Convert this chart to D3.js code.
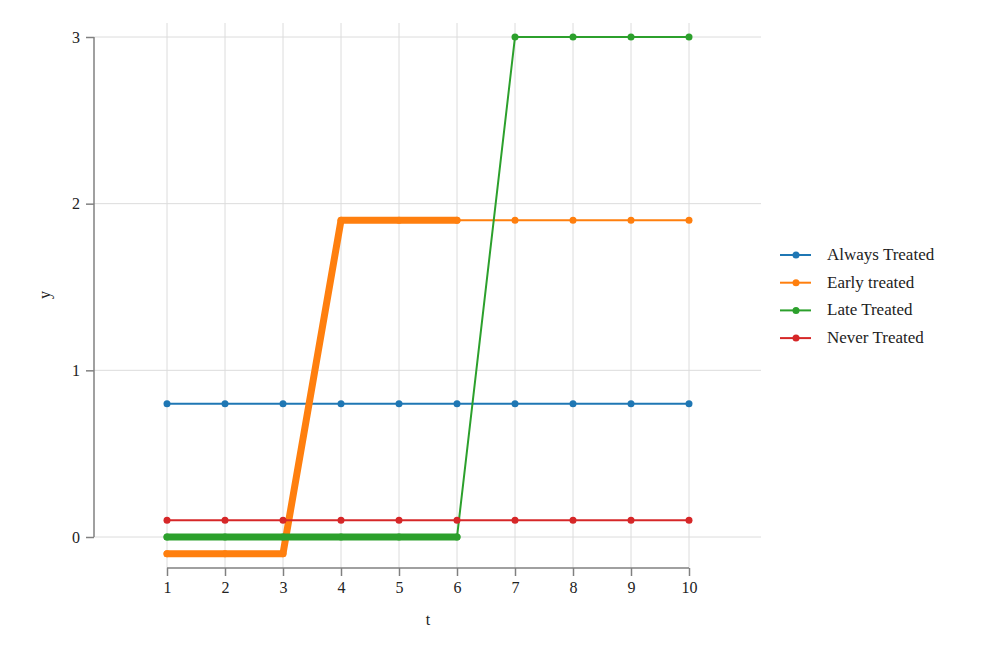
<!DOCTYPE html>
<html><head><meta charset="utf-8">
<script src="https://cdn.jsdelivr.net/npm/d3@7"></script>
<style>
body{margin:0;background:#fff;}
text{font-family:"Liberation Serif","DejaVu Serif",serif;fill:#222;}
</style></head>
<body><svg id="chart" width="1000" height="666"></svg>
<script>
const periods = [1,2,3,4,5,6,7,8,9,10];
const alwaysTreated = [0.8,0.8,0.8,0.8,0.8,0.8,0.8,0.8,0.8,0.8];
const earlyTreated = [-0.1,-0.1,-0.1,1.9,1.9,1.9,1.9,1.9,1.9,1.9];
const lateTreated = [0,0,0,0,0,0,3,3,3,3];
const neverTreated = [0.1,0.1,0.1,0.1,0.1,0.1,0.1,0.1,0.1,0.1];
const seriesNames = ["Always Treated","Early treated","Late Treated","Never Treated"];
const seriesColors = ["#1f77b4","#ff7f0e","#2ca02c","#d62728"];
const yTicks = [0,1,2,3];
const highlightMaxT = 6;

const svg = d3.select("#chart");
const x = d3.scaleLinear().domain([1,10]).range([167,689]);
const y = d3.scaleLinear().domain([0,3]).range([537,37]);

// grid
const g = svg.append("g");
g.selectAll(".vg").data(periods).enter().append("line")
  .attr("x1",d=>x(d)).attr("x2",d=>x(d)).attr("y1",23).attr("y2",568)
  .attr("stroke","#dcdcdc").attr("stroke-width",1);
g.selectAll(".hg").data(yTicks).enter().append("line")
  .attr("x1",94).attr("x2",761).attr("y1",d=>y(d)).attr("y2",d=>y(d))
  .attr("stroke","#dcdcdc").attr("stroke-width",1);

// axes
const xAxis = d3.axisBottom(x).tickValues(periods).tickSize(8).tickPadding(6).tickFormat(d3.format("d"));
const xa = svg.append("g").attr("transform","translate(0,568)").call(xAxis);
const yAxis = d3.axisLeft(y).tickValues(yTicks).tickSize(8).tickPadding(6).tickFormat(d3.format("d"));
const ya = svg.append("g").attr("transform","translate(94,0)").call(yAxis);
[xa,ya].forEach(a=>{
  a.select(".domain").attr("stroke","#808080").attr("stroke-width",1.5);
  a.selectAll(".tick line").attr("stroke","#808080").attr("stroke-width",1.5);
  a.selectAll(".tick text").style("font-family","'Liberation Serif',serif").style("font-size","16px").attr("fill","#222");
});
ya.select(".domain").attr("d",`M0,${y(3)}V${y(0)}`);
xa.select(".domain").attr("d",`M${x(1)},0H${x(10)}`);

svg.append("text").attr("x",428).attr("y",625).attr("text-anchor","middle").style("font-size","16px").text("t");
svg.append("text").attr("transform","translate(50,295) rotate(-90)").attr("text-anchor","middle").style("font-size","16px").text("y");

const allSeries = [alwaysTreated,earlyTreated,lateTreated,neverTreated].map((vals,i)=>({
  name:seriesNames[i], color:seriesColors[i], pts:periods.map((t,j)=>({t:t,v:vals[j]}))
}));
const line = d3.line().x(d=>x(d.t)).y(d=>y(d.v));

function drawThin(s){
  svg.append("path").attr("d",line(s.pts)).attr("fill","none").attr("stroke",s.color).attr("stroke-width",2);
  svg.append("g").selectAll("circle").data(s.pts).enter().append("circle")
    .attr("cx",d=>x(d.t)).attr("cy",d=>y(d.v)).attr("r",3.5).attr("fill",s.color);
}
function drawThick(s){
  svg.append("path").attr("d",line(s.pts.filter(d=>d.t<=highlightMaxT))).attr("fill","none")
    .attr("stroke",s.color).attr("stroke-width",7).attr("stroke-linecap","round").attr("stroke-linejoin","round");
}
drawThin(allSeries[0]);
drawThin(allSeries[1]);
drawThick(allSeries[1]);
drawThin(allSeries[2]);
drawThick(allSeries[2]);
drawThin(allSeries[3]);

// legend
const leg = svg.append("g");
allSeries.forEach((s,i)=>{
  const yy = 255 + i*27.7;
  leg.append("line").attr("x1",780).attr("x2",811).attr("y1",yy).attr("y2",yy).attr("stroke",s.color).attr("stroke-width",2);
  leg.append("circle").attr("cx",796).attr("cy",yy).attr("r",3.5).attr("fill",s.color);
  leg.append("text").attr("x",827).attr("y",yy+5).style("font-size","17px").text(s.name);
});
</script></body></html>
